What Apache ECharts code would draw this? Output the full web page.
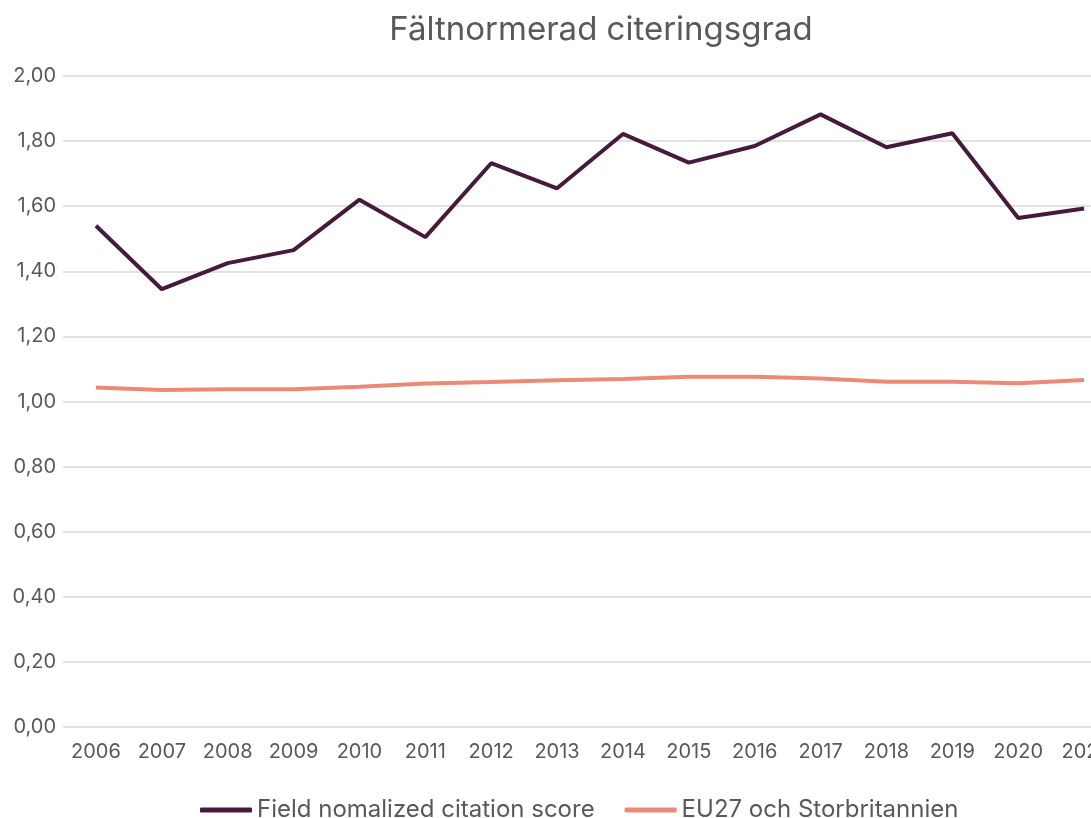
<!DOCTYPE html>
<html>
<head>
<meta charset="utf-8">
<script src="https://cdn.jsdelivr.net/npm/echarts@6/dist/echarts.min.js"></script>
<style>
  html, body { margin: 0; padding: 0; background: #fff; }
  #main { width: 1091px; height: 818px; }
</style>
</head>
<body>
<div id="main"></div>
<script>
var years = ['2006', '2007', '2008', '2009', '2010', '2011', '2012', '2013',
    '2014', '2015', '2016', '2017', '2018', '2019', '2020', '2021'];
var fieldScore = [1.54, 1.345, 1.425, 1.465, 1.62, 1.505, 1.732, 1.655,
    1.822, 1.734, 1.785, 1.882, 1.781, 1.824, 1.564, 1.593];
var euScore = [1.043, 1.035, 1.038, 1.038, 1.045, 1.055, 1.06, 1.065,
    1.069, 1.076, 1.076, 1.071, 1.061, 1.061, 1.056, 1.066];

var chartDom = document.getElementById('main');
var myChart = echarts.init(chartDom);
var option;

var textColor = '#595959';
var font = 'Inter';

option = {
    title: {
        text: 'Fältnormerad citeringsgrad',
        left: 596,
        top: 9,
        textAlign: 'center',
        textStyle: {
            color: textColor,
            fontFamily: font,
            fontSize: 33,
            fontWeight: 'normal'
        }
    },
    legend: {
        top: 793,
        left: 195,
        itemWidth: 52,
        itemHeight: 5,
        itemGap: 30,
        icon: 'roundRect',
        textStyle: {
            color: textColor,
            fontFamily: font,
            fontSize: 24
        },
        data: ['Field nomalized citation score', 'EU27 och Storbritannien']
    },
    grid: {
        left: 63,
        width: 1054,
        top: 76,
        height: 651,
        outerBoundsMode: 'none'
    },
    xAxis: {
        type: 'category',
        data: years,
        boundaryGap: true,
        axisLine: { show: false },
        axisTick: { show: false },
        axisLabel: {
            interval: 0,
            margin: 15,
            color: textColor,
            fontFamily: font,
            fontSize: 20
        }
    },
    yAxis: {
        type: 'value',
        min: 0,
        max: 2,
        interval: 0.2,
        axisLine: { show: false },
        axisTick: { show: false },
        axisLabel: {
            margin: 7,
            color: textColor,
            fontFamily: font,
            fontSize: 20,
            formatter: function (v) {
                return v.toFixed(2).replace('.', ',');
            }
        },
        splitLine: {
            lineStyle: { color: '#d9d9d9', width: 1.5 }
        }
    },
    series: [
        {
            name: 'Field nomalized citation score',
            type: 'line',
            data: fieldScore,
            symbol: 'none',
            lineStyle: { width: 4, color: '#461a3c' },
            itemStyle: { color: '#461a3c' }
        },
        {
            name: 'EU27 och Storbritannien',
            type: 'line',
            data: euScore,
            symbol: 'none',
            lineStyle: { width: 4, color: '#ec8a78' },
            itemStyle: { color: '#ec8a78' }
        }
    ]
};

option && myChart.setOption(option);
</script>
</body>
</html>
